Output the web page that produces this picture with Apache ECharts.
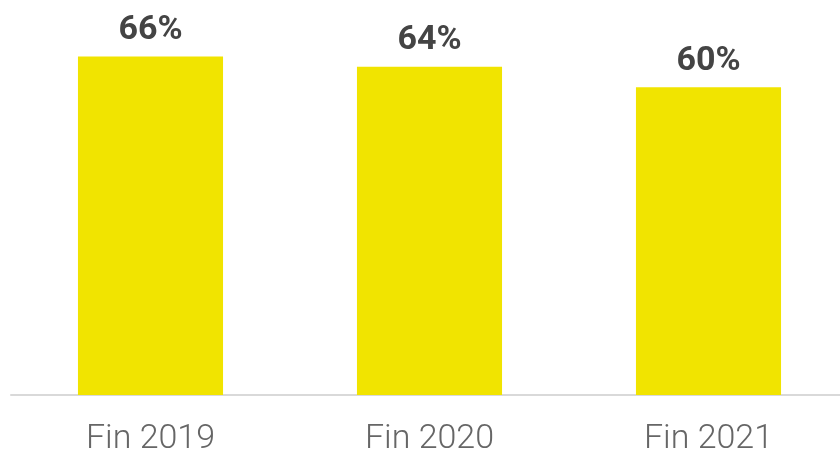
<!DOCTYPE html>
<html>
<head>
<meta charset="utf-8">
<script src="https://cdn.jsdelivr.net/npm/echarts@6/dist/echarts.min.js"></script>
<style>
  html, body { margin: 0; padding: 0; background: #fff; overflow: hidden; width: 840px; height: 456px; }
  #frame { width: 840px; height: 456px; overflow: hidden; position: relative; }
  #chart { width: 848px; height: 456px; position: absolute; left: 0; top: 0; }
</style>
</head>
<body>
<div id="frame"><div id="chart"></div></div>
<script>
// Share at year end (%)
const categories = ['Fin 2019', 'Fin 2020', 'Fin 2021'];
const shares = [66, 64, 60];

const chart = echarts.init(document.getElementById('chart'), null, { renderer: 'canvas' });
chart.setOption({
  animation: false,
  grid: { left: 11, right: 0, top: 36, bottom: 56, containLabel: false },
  xAxis: {
    type: 'category',
    data: categories,
    axisLine: { lineStyle: { color: '#d9d9d9', width: 2 } },
    axisTick: { show: false },
    axisLabel: {
      color: '#666666',
      fontFamily: 'Roboto',
      fontWeight: 300,
      fontSize: 34,
      margin: 27
    }
  },
  yAxis: {
    type: 'value',
    min: 0,
    max: 70,
    show: false,
    splitLine: { show: false }
  },
  series: [{
    type: 'bar',
    data: shares,
    barWidth: '52%',
    itemStyle: { color: '#F1E400' },
    label: {
      show: true,
      position: 'top',
      distance: 9,
      formatter: '{c}%',
      color: '#444444',
      fontFamily: 'Roboto',
      fontWeight: 'bold',
      fontSize: 34
    }
  }]
});
</script>
</body>
</html>
